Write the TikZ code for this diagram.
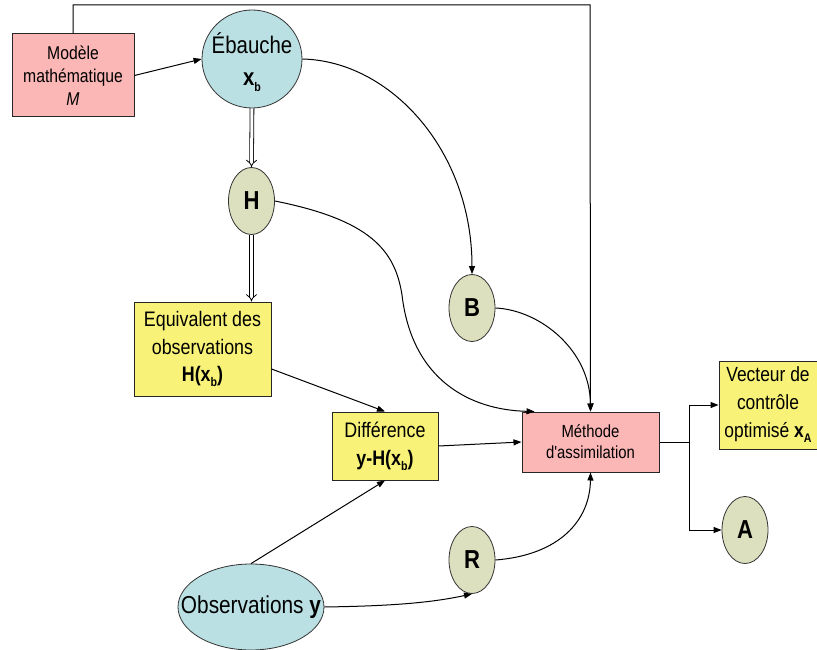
\documentclass[tikz,border=0pt]{standalone}
\usepackage{fontspec}
\setmainfont{Liberation Sans}[FakeStretch=0.85]
\newfontfamily\plainf{Liberation Sans}[FakeStretch=0.85]
\usetikzlibrary{shapes.geometric,arrows.meta,calc}
\definecolor{pinkf}{RGB}{251,182,182}
\definecolor{bluef}{RGB}{186,224,228}
\definecolor{olivef}{RGB}{220,224,190}
\definecolor{yellowf}{RGB}{248,243,120}
\newcommand{\subb}[1]{\raisebox{-0.45ex}{\fontsize{12.5}{12.5}\selectfont\bfseries #1}}
\begin{document}
\begin{tikzpicture}[x=1pt,y=-1pt,
  box/.style={draw=black!85, line width=1pt, rectangle, inner sep=0pt, align=center},
  ell/.style={draw=black!80, line width=0.8pt, ellipse, inner sep=0pt, align=center},
  txt/.style={inner sep=0pt, align=center},
  letter/.style={ell, fill=olivef, minimum width=46pt, minimum height=67pt, font=\fontsize{26}{26}\selectfont\bfseries},
  arr/.style={line width=1pt, -{Triangle[length=8pt,width=6pt]}},
  dbl/.style={double=white, double distance=3pt, line width=0.8pt, -{Implies[length=6pt]}},
  conn/.style={line width=1pt}
]
\useasboundingbox (0,0) rectangle (817,650);

% nodes
\node[box, fill=pinkf, minimum width=122pt, minimum height=83pt, font=\fontsize{18.5}{23}\selectfont] (mod) at (73,75.5) {Modèle\\mathématique\\\textit{M}};
\node[ell, fill=bluef, minimum width=100pt, minimum height=98pt] (E) at (252,59) {};
\node[txt, font=\fontsize{24}{32}\selectfont] (Et) at ($(E)+(0,3)$) {Ébauche\\\textbf{x}\subb{b}};
\node[letter] (H) at (251.5,201) {H};
\node[box, fill=yellowf, minimum width=137pt, minimum height=94pt, font=\fontsize{21}{27.5}\selectfont] (Eq) at (202.5,349) {Equivalent des\\observations\\\textbf{H(x}\subb{b}\textbf{)}};
\node[letter] (B) at (472,308) {B};
\node[box, fill=yellowf, minimum width=106pt, minimum height=68pt, font=\fontsize{21}{28}\selectfont] (D) at (385,446) {Différence\\\textbf{y-H(x}\subb{b}\textbf{)}};
\node[box, fill=pinkf, minimum width=137pt, minimum height=60pt, font=\fontsize{17.5}{21}\selectfont] (M) at (590.5,442) {Méthode\\d{\plainf '}assimilation};
\node[ell, fill=bluef, minimum width=146pt, minimum height=86pt] (O) at (251,607) {};
\node[txt, font=\fontsize{24.5}{24.5}\selectfont] (Ot) at (O) {Observations \textbf{y}};
\node[letter] (R) at (472,560) {R};
\node[box, fill=yellowf, minimum width=98pt, minimum height=88pt, font=\fontsize{20.5}{28}\selectfont] (V) at (768,405) {Vecteur de\\contrôle\\optimisé \textbf{x}\subb{A}};
\node[letter] (A) at (745,530) {A};

% connectors
\coordinate (top) at (590,5);
\draw[arr] (mod.north) |- (top) -- (M.north);
\draw[arr] (mod.east) -- (E.west);
\draw[dbl] (E.south) -- (H.north);
\draw[dbl] (H.south) -- (H.south |- Eq.north);
\draw[arr] (E.east) .. controls (390,61) and (472,150) .. (B.north);
\draw[arr] (H.east) .. controls (370,220) and (395,250) .. (402,295) .. controls (412,380) and (470,410) .. ($(M.north west)+(13,0)$);
\draw[arr] (B.east) .. controls (540,310) and (590,350) .. (M.north);
\draw[arr] ($(Eq.east)+(0,20)$) -- (D.north);
\draw[arr] (D.east) -- (M.west);
\draw[arr] (O.north) -- (D.south);
\draw[arr] (O.east) .. controls (390,606) and (430,603) .. (R.south);
\draw[arr] (R.east) .. controls (560,555) and (590,520) .. (M.south);
\draw[conn] (M.east) -- ++(30,0) coordinate (br);
\draw[arr] (br) |- (V.west);
\draw[arr] (br) |- (A.west);
\end{tikzpicture}
\end{document}
